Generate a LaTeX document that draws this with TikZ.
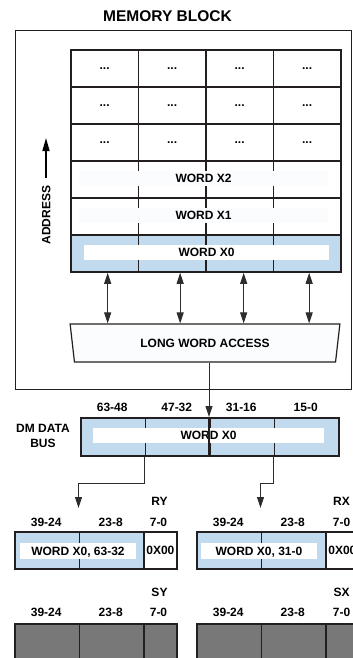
\documentclass[tikz,border=0pt]{standalone}
\usepackage{fontspec}
\setmainfont{Liberation Sans}
\usetikzlibrary{arrows.meta,shapes.geometric}
\definecolor{cellline}{RGB}{35,31,32}
\definecolor{arrowline}{RGB}{45,45,45}
\definecolor{wordblue}{RGB}{193,218,238}
\definecolor{bandwhite}{RGB}{250,252,254}
\definecolor{reggray}{RGB}{120,120,120}
\tikzset{
  >={Triangle[length=11pt,width=7pt]},
  lbl/.style={inner sep=0pt,text height=8.6pt,text depth=0pt},
  titlelbl/.style={lbl,font=\bfseries\fontsize{15.5}{18}\selectfont,text height=11.1pt},
  bitlbl/.style={lbl},
  reglbl/.style={lbl},
  outerbox/.style={draw=cellline,line width=1.4pt,anchor=north west,inner sep=0pt},
  memcell/.style={draw=cellline,line width=1.8pt,minimum height=37pt,
    minimum width=67.5pt,inner sep=0pt,anchor=north west},
  wordband/.style={lbl,fill=bandwhite,minimum height=15pt},
  lwabox/.style={lbl,trapezium,draw=cellline,line width=1.2pt,fill=bandwhite,
    trapezium stretches=true,minimum width=270pt,minimum height=38pt,
    trapezium angle=76,shape border rotate=180},
  biarrow/.style={<->,draw=arrowline,line width=1pt},
  busarrow/.style={->,draw=arrowline,line width=1pt},
  addrarrow/.style={-{Triangle[length=13pt,width=7pt]},draw=black,line width=1.6pt},
}
\begin{document}
\begin{tikzpicture}[x=1pt,y=-1pt,font=\bfseries\fontsize{12}{15}\selectfont]
  \path[use as bounding box] (0,0) rectangle (353,658);
  \clip (0,0) rectangle (353,658);
  % memory block
  \node[titlelbl] (title) at (167.5,16) {MEMORY BLOCK};
  \node[outerbox,minimum width=336pt,minimum height=359pt] (memblk) at (15,30) {};
  \foreach \r in {0,1,2}
    \foreach \c in {0,...,3}
      \node[memcell] (dot\r\c) at (70+67.5*\c,49+37*\r) {...};
  \foreach \c in {0,...,3} {
    \node[memcell] (xtwo\c) at (70+67.5*\c,160) {};
    \node[memcell] (xone\c) at (70+67.5*\c,197) {};
    \node[memcell,fill=wordblue] (xzero\c) at (70+67.5*\c,234) {};
  }
  \node[wordband,minimum width=249pt] (wx2) at (203.5,178.5) {WORD X2};
  \node[wordband,minimum width=249pt] (wx1) at (203.5,215.5) {WORD X1};
  \node[wordband,fill=white,minimum width=245pt] (wx0) at (206.5,252.5) {WORD X0};
  \coordinate (addrbase) at (46,178);
  \coordinate (addrtip) at (46,138);
  \draw[addrarrow] (addrbase) -- (addrtip);
  \node[lbl,rotate=90] (addr) at (46,215) {ADDRESS};
  \node[lwabox] (lwa) at (205,343) {LONG WORD ACCESS};
  \foreach \c/\dx in {0/3pt,1/8pt,2/4pt,3/2pt}
    \draw[biarrow] ([xshift=\dx]xzero\c.south) -- ([xshift=\dx]xzero\c.south |- lwa.north);
  % dm data bus
  \foreach \c/\bits in {0/63-48,1/47-32,2/31-16,3/15-0} {
    \node[memcell,fill=wordblue,minimum width=64.5pt,minimum height=38pt] (bus\c) at (80+64.5*\c,417) {};
    \node[bitlbl] (busbit\c) at (112.25+64.5*\c,407) {\bits};
  }
  \node[wordband,fill=white,minimum width=231pt] (bx0) at (208.5,435.5) {WORD X0};
  \draw[cellline,line width=1.6pt] (bus2.north west) -- (bus2.south west);
  \draw[busarrow] (bus2.north west |- lwa.south) -- (bus2.north west);
  \node[align=center,inner sep=0pt] (dmbus) at (43,435.5) {DM DATA\\BUS};
  % registers
  \node[memcell,fill=wordblue,minimum width=64.5pt] (ry0) at (14,531) {};
  \node[memcell,fill=wordblue,minimum width=64.5pt] (ry1) at (78.5,531) {};
  \node[memcell,minimum width=33pt] (ry2) at (143,531) {0X00};
  \node[memcell,fill=wordblue,minimum width=64.5pt] (rx0) at (196,531) {};
  \node[memcell,fill=wordblue,minimum width=64.5pt] (rx1) at (260.5,531) {};
  \node[memcell,minimum width=33pt] (rx2) at (325,531) {0X00};
  \node[wordband,fill=white,minimum width=116pt,minimum height=16pt] (ryband) at (78,551) {WORD X0, 63-32};
  \node[wordband,fill=white,minimum width=116pt,minimum height=16pt] (rxband) at (259,551) {WORD X0, 31-0};
  \draw[busarrow] (bus1.south west) -- ++(0,27) -| ([yshift=23pt]ry1.north west);
  \draw[busarrow] (bus3.south west) -- ++(0,27) -| ([yshift=23pt]rx1.north west);
  \node[reglbl] (rylbl) at (159.5,501) {RY};
  \node[reglbl] (rxlbl) at (341.5,501) {RX};
  \node[bitlbl] (rybit0) at (46.25,522) {39-24};
  \node[bitlbl] (rybit1) at (110.75,522) {23-8};
  \node[bitlbl] (rybit2) at (158.5,522) {7-0};
  \node[bitlbl] (rxbit0) at (228.25,522) {39-24};
  \node[bitlbl] (rxbit1) at (292.75,522) {23-8};
  \node[bitlbl] (rxbit2) at (341.5,522) {7-0};
  % shadow registers
  \node[reglbl] (sylbl) at (159.5,592) {SY};
  \node[reglbl] (sxlbl) at (341.5,592) {SX};
  \node[bitlbl] (sybit0) at (46.25,612) {39-24};
  \node[bitlbl] (sybit1) at (110.75,612) {23-8};
  \node[bitlbl] (sybit2) at (158.5,612) {7-0};
  \node[bitlbl] (sxbit0) at (228.25,612) {39-24};
  \node[bitlbl] (sxbit1) at (292.75,612) {23-8};
  \node[bitlbl] (sxbit2) at (341.5,612) {7-0};
  \node[memcell,fill=reggray,minimum width=64.5pt] (sy0) at (14,623) {};
  \node[memcell,fill=reggray,minimum width=64.5pt] (sy1) at (78.5,623) {};
  \node[memcell,fill=reggray,minimum width=33pt] (sy2) at (143,623) {};
  \node[memcell,fill=reggray,minimum width=64.5pt] (sx0) at (196,623) {};
  \node[memcell,fill=reggray,minimum width=64.5pt] (sx1) at (260.5,623) {};
  \node[memcell,fill=reggray,minimum width=33pt] (sx2) at (325,623) {};
\end{tikzpicture}
\end{document}
